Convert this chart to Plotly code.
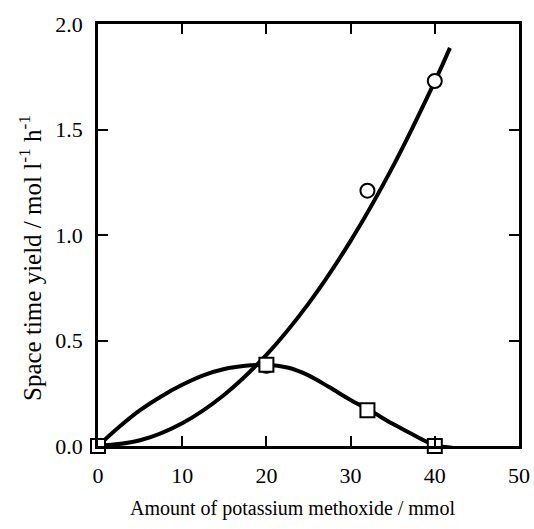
import plotly.graph_objects as go

# Measured points
circ_x = [0, 20, 32, 40]
circ_y = [0.0, 0.38, 1.21, 1.73]
sq_x = [0, 20, 32, 40]
sq_y = [0.0, 0.385, 0.17, 0.0]

# Fitted curves
circ_fit_x = [0, 5, 10, 15, 20, 25, 30, 35, 40, 41.8]
circ_fit_y = [0, 0.027, 0.108, 0.243, 0.432, 0.675, 0.972, 1.323, 1.728, 1.887]
sq_fit_x = [0, 2.5, 5, 7.5, 10, 12.5, 15, 17.5, 20, 22.5, 25, 27.5, 30, 32.5, 35, 37.5, 40, 42.4]
sq_fit_y = [0, 0.09, 0.17, 0.235, 0.29, 0.335, 0.365, 0.38, 0.385, 0.372, 0.335, 0.278, 0.218, 0.163, 0.105, 0.052, 0.005, -0.01]

x_ticks = [0, 10, 20, 30, 40, 50]
y_ticks = [0.0, 0.5, 1.0, 1.5, 2.0]

FONT = "Liberation Serif, Times New Roman, serif"

fig = go.Figure()
fig.add_trace(go.Scatter(x=circ_fit_x, y=circ_fit_y, mode="lines",
                         line=dict(color="black", width=4, shape="spline"),
                         hoverinfo="skip", showlegend=False))
fig.add_trace(go.Scatter(x=sq_fit_x, y=sq_fit_y, mode="lines",
                         line=dict(color="black", width=4, shape="spline"),
                         hoverinfo="skip", showlegend=False))
fig.add_trace(go.Scatter(x=circ_x, y=circ_y, mode="markers",
                         marker=dict(symbol="circle", size=14, color="white",
                                     line=dict(color="black", width=2)),
                         cliponaxis=False, showlegend=False))
fig.add_trace(go.Scatter(x=sq_x, y=sq_y, mode="markers",
                         marker=dict(symbol="square", size=14, color="white",
                                     line=dict(color="black", width=2)),
                         cliponaxis=False, showlegend=False))

fig.update_layout(
    width=534, height=529,
    margin=dict(l=98, r=15, t=24, b=83),
    paper_bgcolor="white", plot_bgcolor="white",
    font=dict(family=FONT, size=20, color="black"),
    showlegend=False,
    xaxis=dict(range=[0, 50], tickvals=x_ticks, ticktext=[str(v) for v in x_ticks],
               ticks="inside", ticklen=10, tickwidth=1.5, tickcolor="black",
               showline=True, linecolor="black", linewidth=2.5, mirror="ticks",
               showgrid=False, zeroline=False, ticklabelstandoff=8, automargin=False,
               tickfont=dict(family=FONT, size=22)),
    yaxis=dict(range=[0, 2.0], tickvals=y_ticks, ticktext=[f"{v:.1f}" for v in y_ticks],
               ticks="inside", ticklen=10, tickwidth=1.5, tickcolor="black",
               showline=True, linecolor="black", linewidth=2.5, mirror="ticks",
               showgrid=False, zeroline=False, ticklabelstandoff=8, automargin=False,
               tickfont=dict(family=FONT, size=22)),
    annotations=[
        dict(text="Amount of potassium methoxide / mmol", xref="paper", yref="paper",
             x=(292 - 98) / (519 - 98), y=-(509 - 446) / (446 - 24),
             xanchor="center", yanchor="middle", showarrow=False,
             font=dict(family=FONT, size=20)),
        dict(text="Space time yield / mol l<sup>-1</sup> h<sup>-1</sup>", xref="paper", yref="paper",
             x=-(98 - 30) / (519 - 98), y=(446 - 258) / (446 - 24),
             xanchor="center", yanchor="middle", textangle=-90, showarrow=False,
             font=dict(family=FONT, size=25)),
    ],
)

fig.write_html("out.html", config={"displayModeBar": False},
               post_script="document.body.style.margin='0px';document.body.style.overflow='hidden';")
